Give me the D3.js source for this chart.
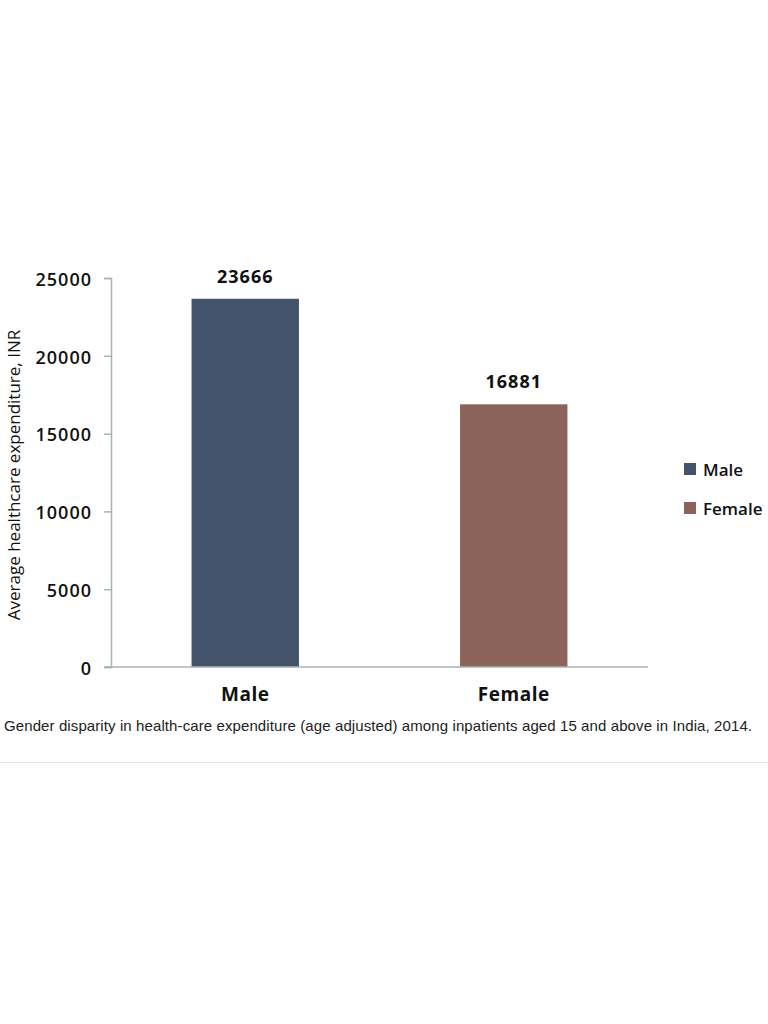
<!DOCTYPE html>
<html><head><meta charset="utf-8">
<script src="https://cdn.jsdelivr.net/npm/d3@7"></script>
<style>body{margin:0;background:#fff;}svg{display:block;}</style>
</head><body>
<script>
const categories = ["Male", "Female"];
const values = [23666, 16881];
const colors = ["#43536a", "#8b6359"];
const yTicks = [0, 5000, 10000, 15000, 20000, 25000];
const yTitle = "Average healthcare expenditure, INR";
const caption = "Gender disparity in health-care expenditure (age adjusted) among inpatients aged 15 and above in India, 2014.";

const W = 768, H = 1024;
const svg = d3.select("body").append("svg").attr("width", W).attr("height", H);
const font = "'Open Sans', 'Noto Sans', sans-serif";

const x = d3.scaleBand().domain(categories).range([111, 648]).paddingInner(0.6).paddingOuter(0.3);
const y = d3.scaleLinear().domain([0, 25000]).range([667, 278]);

const axisColor = "#a8b3b3";

// y axis
const yAx = svg.append("g").attr("transform", "translate(111,0)")
  .call(d3.axisLeft(y).tickValues(yTicks).tickSize(7).tickPadding(12).tickFormat(d3.format("d")));
yAx.select(".domain").attr("stroke", axisColor).attr("stroke-width", 1.5);
yAx.selectAll(".tick line").attr("stroke", axisColor).attr("stroke-width", 1.5);
yAx.selectAll(".tick text").attr("font-family", font).attr("font-size", 18).attr("font-weight", 600)
  .attr("letter-spacing", 1).attr("dy", "0.4em").attr("fill", "#111");

// bars
svg.selectAll("rect.bar").data(categories).enter().append("rect")
  .attr("class", "bar")
  .attr("x", d => x(d))
  .attr("width", x.bandwidth())
  .attr("y", (d, i) => y(values[i]))
  .attr("height", (d, i) => y(0) - y(values[i]))
  .attr("fill", (d, i) => colors[i]);

// x axis
const xAx = svg.append("g").attr("transform", "translate(0,667)")
  .call(d3.axisBottom(x).tickSize(0).tickPadding(21));
xAx.select(".domain").attr("d", "M104,0H648").attr("stroke", axisColor).attr("stroke-width", 1.5);
xAx.selectAll(".tick text").attr("font-family", font).attr("font-size", 19).attr("font-weight", 700)
  .attr("letter-spacing", 0.5).attr("fill", "#111");

// value labels
svg.selectAll("text.val").data(categories).enter().append("text")
  .attr("class", "val")
  .attr("x", d => x(d) + x.bandwidth() / 2)
  .attr("y", (d, i) => y(values[i]) - 16)
  .attr("text-anchor", "middle")
  .attr("font-family", font).attr("font-size", 18).attr("font-weight", 700)
  .attr("letter-spacing", 1).attr("fill", "#111")
  .text((d, i) => values[i]);

// y title
svg.append("text")
  .attr("transform", "translate(20,475) rotate(-90)")
  .attr("text-anchor", "middle")
  .attr("font-family", font).attr("font-size", 17).attr("fill", "#111")
  .text(yTitle);

// legend
const leg = svg.selectAll("g.leg").data(categories).enter().append("g")
  .attr("class", "leg")
  .attr("transform", (d, i) => `translate(684,${463 + i * 39})`);
leg.append("rect").attr("width", 12).attr("height", 12).attr("fill", (d, i) => colors[i]);
leg.append("text").attr("x", 19).attr("y", 12.5)
  .attr("font-family", font).attr("font-size", 17).attr("font-weight", 600)
  .attr("fill", "#111")
  .text(d => d);

// caption
svg.append("text").attr("x", 4).attr("y", 731)
  .attr("font-family", "'Liberation Sans', Arial, sans-serif").attr("font-size", 15).attr("fill", "#222")
  .attr("textLength", 748).attr("lengthAdjust", "spacing")
  .text(caption);

svg.append("line").attr("x1", 0).attr("x2", 768).attr("y1", 762.5).attr("y2", 762.5)
  .attr("stroke", "#e4e4e4").attr("stroke-width", 1);
</script>
</body></html>
